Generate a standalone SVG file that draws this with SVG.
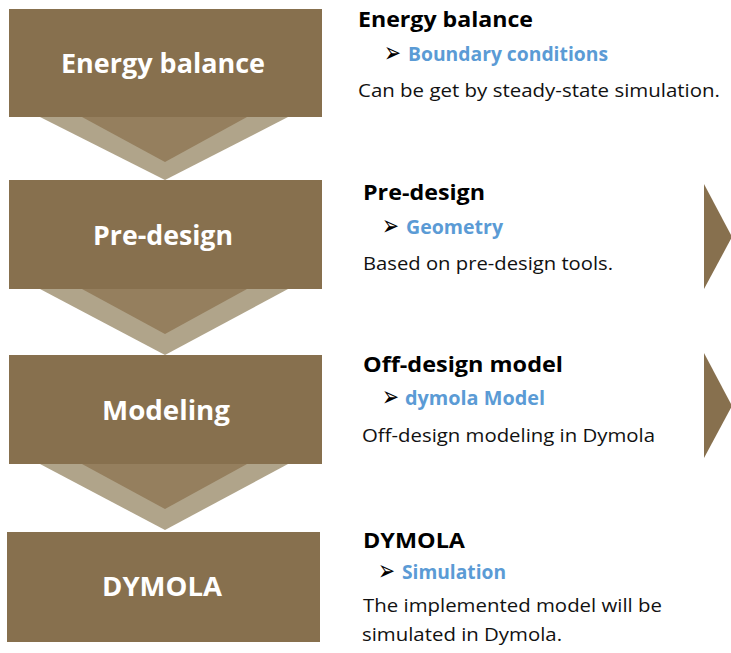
<svg xmlns="http://www.w3.org/2000/svg" width="731" height="653" viewBox="0 0 731 653">
  <style>
    .box { fill: #87704e; }
    .band { fill: #b0a48a; }
    .core { fill: #957f5e; }
    .side { fill: #87704e; }
    .boxlabel { font-family: "Open Sans", "Liberation Sans", sans-serif; font-weight: bold; font-size: 26px; fill: #ffffff; text-anchor: middle; }
    .head { font-family: "Open Sans", "Liberation Sans", sans-serif; font-weight: bold; font-size: 22px; fill: #000000; }
    .bullet { font-family: "DejaVu Sans", sans-serif; font-size: 28px; fill: #000000; }
    .item { font-family: "Open Sans", "Liberation Sans", sans-serif; font-weight: bold; font-size: 19.5px; fill: #5b9bd5; }
    .body { font-family: "Open Sans", "Liberation Sans", sans-serif; font-size: 19px; fill: #111111; }
  </style>
  <rect width="731" height="653" fill="#ffffff"/>

  <!-- down chevrons linking the steps -->
  <g id="connectors">
    <polygon class="band" points="40,117 288,117 165,180"/>
    <polygon class="core" points="82,117 247,117 165,162"/>
    <polygon class="band" points="40,289 288,289 165,355"/>
    <polygon class="core" points="82,289 247,289 165,334"/>
    <polygon class="band" points="40,464 288,464 165,530"/>
    <polygon class="core" points="82,464 247,464 165,509"/>
  </g>

  <g id="step-energy-balance">
    <rect class="box" x="9" y="9" width="313" height="108"/>
    <text class="boxlabel" x="163" y="73" textLength="204" lengthAdjust="spacingAndGlyphs">Energy balance</text>
  </g>
  <g id="step-pre-design">
    <rect class="box" x="9" y="180" width="313" height="109"/>
    <text class="boxlabel" x="163" y="245" textLength="140" lengthAdjust="spacingAndGlyphs">Pre-design</text>
  </g>
  <g id="step-modeling">
    <rect class="box" x="9" y="355" width="313" height="109"/>
    <text class="boxlabel" x="166" y="420" textLength="128" lengthAdjust="spacingAndGlyphs">Modeling</text>
  </g>
  <g id="step-dymola">
    <rect class="box" x="7" y="532" width="313" height="110"/>
    <text class="boxlabel" x="162" y="596" textLength="120" lengthAdjust="spacingAndGlyphs">DYMOLA</text>
  </g>

  <!-- descriptions -->
  <g id="desc-energy-balance">
    <text class="head" x="358" y="27" textLength="175" lengthAdjust="spacingAndGlyphs">Energy balance</text>
    <text class="bullet" x="384" y="62" textLength="17" lengthAdjust="spacingAndGlyphs">➢</text>
    <text class="item" x="408" y="61" textLength="200" lengthAdjust="spacingAndGlyphs">Boundary conditions</text>
    <text class="body" x="358" y="97" textLength="362" lengthAdjust="spacingAndGlyphs">Can be get by steady-state simulation.</text>
  </g>
  <g id="desc-pre-design">
    <text class="head" x="363" y="200" textLength="122" lengthAdjust="spacingAndGlyphs">Pre-design</text>
    <text class="bullet" x="382" y="235" textLength="17" lengthAdjust="spacingAndGlyphs">➢</text>
    <text class="item" x="406" y="234" textLength="97" lengthAdjust="spacingAndGlyphs">Geometry</text>
    <text class="body" x="363" y="270" textLength="250" lengthAdjust="spacingAndGlyphs">Based on pre-design tools.</text>
  </g>
  <g id="desc-modeling">
    <text class="head" x="363" y="372" textLength="200" lengthAdjust="spacingAndGlyphs">Off-design model</text>
    <text class="bullet" x="382" y="406" textLength="17" lengthAdjust="spacingAndGlyphs">➢</text>
    <text class="item" x="405" y="405" textLength="140" lengthAdjust="spacingAndGlyphs">dymola Model</text>
    <text class="body" x="362" y="442" textLength="293" lengthAdjust="spacingAndGlyphs">Off-design modeling in Dymola</text>
  </g>
  <g id="desc-dymola">
    <text class="head" x="363" y="548" textLength="102" lengthAdjust="spacingAndGlyphs">DYMOLA</text>
    <text class="bullet" x="378" y="580" textLength="17" lengthAdjust="spacingAndGlyphs">➢</text>
    <text class="item" x="402" y="579" textLength="104" lengthAdjust="spacingAndGlyphs">Simulation</text>
    <text class="body" x="363" y="612" textLength="299" lengthAdjust="spacingAndGlyphs">The implemented model will be</text>
    <text class="body" x="362" y="641" textLength="200" lengthAdjust="spacingAndGlyphs">simulated in Dymola.</text>
  </g>

  <!-- side markers pointing right -->
  <g id="marker-pre-design">
    <polygon class="side" points="704,184 704,289 732,237"/>
  </g>
  <g id="marker-modeling">
    <polygon class="side" points="704,353 704,458 732,406"/>
  </g>
</svg>
